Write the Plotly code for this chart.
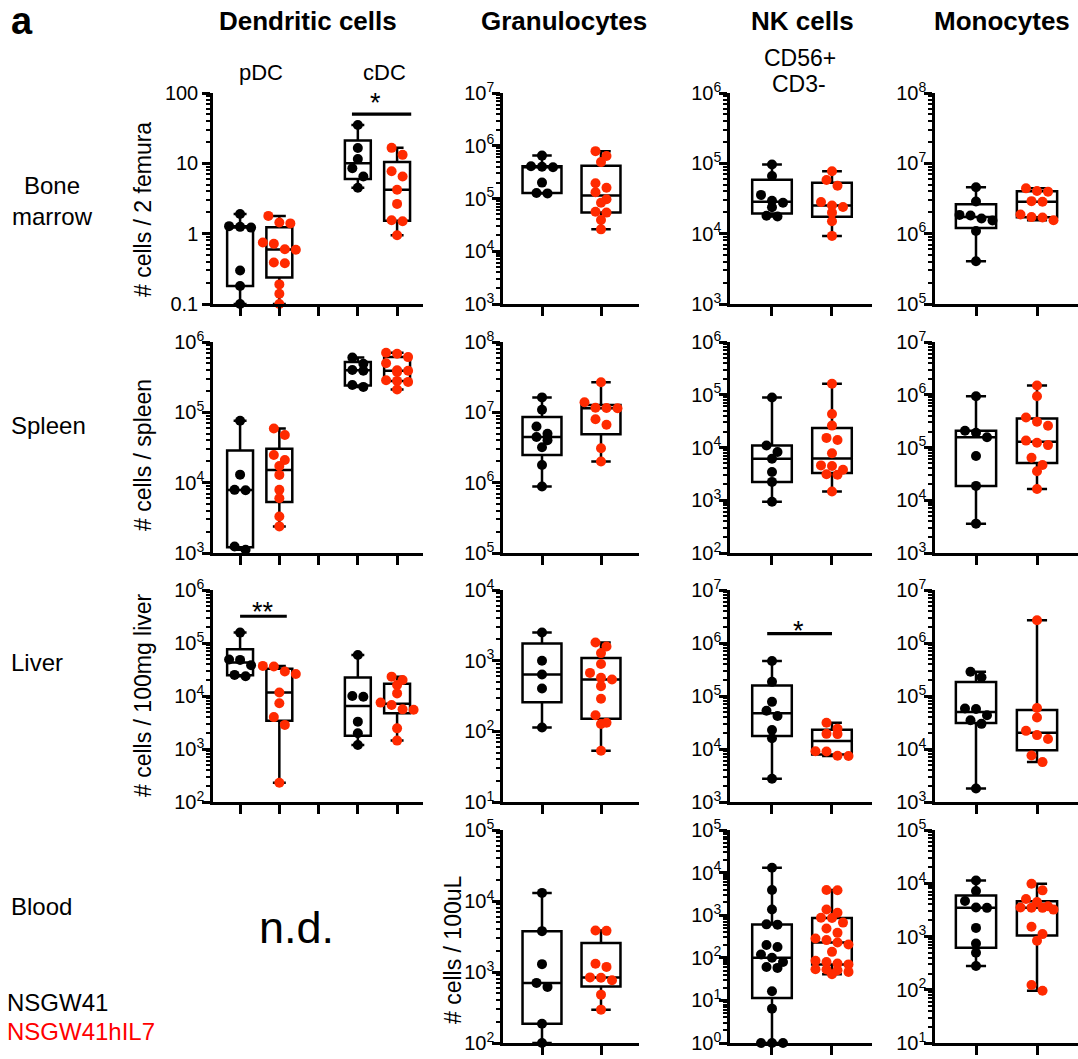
import numpy as np
import plotly.graph_objects as go

W, H = 1078, 1059
FONT = "Liberation Sans, Arial, sans-serif"
BLACK = "#000000"
RED = "#ff2a00"
LEGEND_RED = "#ff0000"

# ---------------- data (NSGW41 = ctrl, NSGW41hIL7 = il7) ----------------
# Bone marrow
bm_pdc_ctrl = [1.9, 1.28, 1.25, 1.22, 0.3, 0.18, 0.1]
bm_pdc_il7 = [1.79, 1.44, 1.40, 0.75, 0.72, 0.60, 0.59, 0.39, 0.38, 0.19, 0.14, 0.1]
bm_cdc_ctrl = [35, 16.5, 11.5, 8.5, 6.5, 4.5]
bm_cdc_il7 = [16.6, 13.2, 7.7, 6.5, 4.2, 2.65, 1.55, 1.5, 0.95]
bm_gran_ctrl = [6.5e5, 4.1e5, 4.0e5, 3.9e5, 2.0e5, 1.27e5, 1.25e5]
bm_gran_il7 = [7.9e5, 6.4e5, 4.9e5, 1.94e5, 1.6e5, 1.31e5, 9.7e4, 8.3e4, 5.6e4, 5.4e4, 3.9e4, 2.6e4]
bm_nk_ctrl = [9.6e4, 6.6e4, 3.56e4, 2.93e4, 2.75e4, 2.37e4, 1.8e4, 1.75e4]
bm_nk_il7 = [7.7e4, 5.8e4, 4.8e4, 2.81e4, 2.52e4, 2.39e4, 1.99e4, 1.5e4, 9.3e3]
bm_mono_ctrl = [4.56e6, 2.87e6, 1.85e6, 1.81e6, 1.64e6, 1.54e6, 1.09e6, 4.05e5]
bm_mono_il7 = [4.41e6, 4.05e6, 3.96e6, 2.9e6, 2.85e6, 1.87e6, 1.72e6, 1.70e6, 1.55e6]
# Spleen
sp_pdc_ctrl = [7.6e4, 1.3e4, 7.9e3, 7.8e3, 1.24e3, 1.11e3]
sp_pdc_il7 = [5.9e4, 4.75e4, 2.47e4, 2.1e4, 1.73e4, 1.29e4, 7.9e3, 6.0e3, 3.3e3, 2.39e3]
sp_cdc_ctrl = [6.0e5, 4.9e5, 4.0e5, 3.9e5, 2.45e5, 2.3e5]
sp_cdc_il7 = [7.05e5, 6.8e5, 6.1e5, 5.0e5, 3.96e5, 3.9e5, 3.76e5, 2.86e5, 2.8e5, 2.71e5, 2.11e5]
sp_gran_ctrl = [1.63e7, 1.09e7, 6.3e6, 4.95e6, 4.46e6, 4.0e6, 3.18e6, 1.78e6, 8.8e5]
sp_gran_il7 = [2.68e7, 1.39e7, 1.16e7, 1.15e7, 1.14e7, 7.96e6, 6.65e6, 3.08e6, 2.0e6]
sp_nk_ctrl = [8.85e4, 1.09e4, 8.2e3, 6.1e3, 3.43e3, 2.23e3, 9.4e2]
sp_nk_il7 = [1.62e5, 4.3e4, 2.6e4, 1.52e4, 1.39e4, 7.8e3, 4.58e3, 4.45e3, 3.8e3, 3.1e3, 3.05e3, 1.47e3]
sp_mono_ctrl = [9.4e5, 2.08e5, 1.9e5, 1.56e5, 6.9e4, 1.87e4, 3.6e3]
sp_mono_il7 = [1.5e6, 9.4e5, 3.7e5, 3.07e5, 2.59e5, 1.35e5, 1.23e5, 1.11e5, 6.4e4, 4.67e4, 3.55e4, 1.64e4]
# Liver
lv_pdc_ctrl = [1.57e5, 4.9e4, 4.8e4, 3.8e4, 2.5e4, 2.35e4]
lv_pdc_il7 = [3.7e4, 3.6e4, 2.9e4, 2.6e4, 1.16e4, 7.3e3, 4.0e3, 2.85e3, 2.3e2]
lv_cdc_ctrl = [5.94e4, 1.0e4, 9.7e3, 3.28e3, 1.98e3, 1.19e3]
lv_cdc_il7 = [2.32e4, 2.0e4, 1.61e4, 1.12e4, 7.5e3, 6.76e3, 5.6e3, 5.5e3, 2.45e3, 1.44e3]
lv_gran_ctrl = [2.5e3, 1.0e3, 6.36e2, 4.04e2, 1.13e2]
lv_gran_il7 = [1.81e3, 1.59e3, 1.28e3, 8.98e2, 6.71e2, 5.71e2, 5.41e2, 4.36e2, 2.89e2, 1.69e2, 1.32e2, 1.27e2, 5.3e1]
lv_nk_ctrl = [4.57e5, 1.85e5, 7.76e4, 5.27e4, 4.18e4, 2.28e4, 1.59e4, 2.74e3]
lv_nk_il7 = [3.13e4, 2.42e4, 1.93e4, 1.91e4, 9.1e3, 9.0e3, 7.45e3, 7.4e3]
lv_mono_ctrl = [2.87e5, 2.25e5, 5.8e4, 5.7e4, 4.32e4, 3.49e4, 2.98e4, 1.8e3]
lv_mono_il7 = [2.68e6, 5.93e4, 3.92e4, 2.2e4, 1.83e4, 1.54e4, 7.54e3, 5.66e3]
# Blood
bl_gran_ctrl = [1.3e4, 3.76e3, 1.29e3, 7.02e2, 6.17e2, 1.87e2, 1.0e2]
bl_gran_il7 = [3.85e3, 3.8e3, 1.31e3, 1.18e3, 8.4e2, 8.3e2, 7.65e2, 4.8e2, 2.95e2]
bl_nk_ctrl = [1.3e4, 3.9e3, 1.36e3, 6.1e2, 6.0e2, 2.0e2, 1.8e2, 1.2e2, 1.0e2, 8.0e1, 6.1e1,
              5.8e1, 1.64e1, 6.4, 1, 1, 1]
bl_nk_il7 = [3.9e3, 3.85e3, 1.36e3, 1.14e3, 8.7e2, 8.6e2, 6.7e2, 4.88e2, 3.85e2, 2.84e2, 2.6e2,
             2.29e2, 2.05e2, 1.38e2, 8.5e1, 8.0e1, 7.3e1, 7.0e1, 5.4e1, 5.3e1, 5.1e1, 4.67e1, 4.1e1]
bl_mono_ctrl = [1.13e4, 7.14e3, 4.65e3, 3.5e3, 3.45e3, 1.45e3, 7.4e2, 4.95e2, 2.79e2]
bl_mono_il7 = [9.8e3, 7.35e3, 5.06e3, 4.45e3, 3.69e3, 3.5e3, 3.48e3, 3.45e3, 3.2e3, 1.52e3,
               1.11e3, 8.3e2, 1.23e2, 9.6e1]

COLUMN_TITLES = ["Dendritic cells", "Granulocytes", "NK cells", "Monocytes"]
Y_TITLES = ["# cells / 2 femura", "# cells / spleen", "# cells / 100mg liver", "# cells / 100uL"]

# ---------------- layout geometry (pixels) ----------------
COL_PX = [(213, 423), (503, 639), (730, 872), (935, 1078)]
ROW_PX = [(93, 304), (342, 553), (590, 802), (830, 1043)]
XRANGE = [[-0.69, 4.66], [-0.661, 1.644], [-0.7, 1.667], [-0.672, 1.672]]

panels = [
    dict(r=0, c=0, yr=(-1, 2), plain=True,
         groups=[(0, bm_pdc_ctrl, BLACK), (1, bm_pdc_il7, RED), (3, bm_cdc_ctrl, BLACK), (4, bm_cdc_il7, RED)]),
    dict(r=0, c=1, yr=(3, 7), groups=[(0, bm_gran_ctrl, BLACK), (1, bm_gran_il7, RED)]),
    dict(r=0, c=2, yr=(3, 6), groups=[(0, bm_nk_ctrl, BLACK), (1, bm_nk_il7, RED)]),
    dict(r=0, c=3, yr=(5, 8), groups=[(0, bm_mono_ctrl, BLACK), (1, bm_mono_il7, RED)]),
    dict(r=1, c=0, yr=(3, 6),
         groups=[(0, sp_pdc_ctrl, BLACK), (1, sp_pdc_il7, RED), (3, sp_cdc_ctrl, BLACK), (4, sp_cdc_il7, RED)]),
    dict(r=1, c=1, yr=(5, 8), groups=[(0, sp_gran_ctrl, BLACK), (1, sp_gran_il7, RED)]),
    dict(r=1, c=2, yr=(2, 6), groups=[(0, sp_nk_ctrl, BLACK), (1, sp_nk_il7, RED)]),
    dict(r=1, c=3, yr=(3, 7), groups=[(0, sp_mono_ctrl, BLACK), (1, sp_mono_il7, RED)]),
    dict(r=2, c=0, yr=(2, 6),
         groups=[(0, lv_pdc_ctrl, BLACK), (1, lv_pdc_il7, RED), (3, lv_cdc_ctrl, BLACK), (4, lv_cdc_il7, RED)]),
    dict(r=2, c=1, yr=(1, 4), groups=[(0, lv_gran_ctrl, BLACK), (1, lv_gran_il7, RED)]),
    dict(r=2, c=2, yr=(3, 7), groups=[(0, lv_nk_ctrl, BLACK), (1, lv_nk_il7, RED)]),
    dict(r=2, c=3, yr=(3, 7), groups=[(0, lv_mono_ctrl, BLACK), (1, lv_mono_il7, RED)]),
    dict(r=3, c=1, yr=(2, 5), groups=[(0, bl_gran_ctrl, BLACK), (1, bl_gran_il7, RED)]),
    dict(r=3, c=2, yr=(0, 5), groups=[(0, bl_nk_ctrl, BLACK), (1, bl_nk_il7, RED)]),
    dict(r=3, c=3, yr=(1, 5), groups=[(0, bl_mono_ctrl, BLACK), (1, bl_mono_il7, RED)]),
]

# significance bars: (panel index, x0, x1, y value, label, star x, yshift)
significance = [
    (0, 2.85, 4.36, 50, "*", 3.45, 11),
    (8, 0.0, 1.19, 3.2e5, "**", 0.58, 4),
    (10, -0.08, 1.0, 1.5e6, "*", 0.44, 3),
]


def swarm(vals, ppu, ppd, d=11.0, max_row=4):
    y = np.log10(np.asarray(vals, float)) * ppd
    order = np.argsort(-y, kind="stable")
    rows, cur = [], [order[0]]
    for i in order[1:]:
        if abs(y[cur[0]] - y[i]) < 0.75 * d and len(cur) < max_row:
            cur.append(i)
        else:
            rows.append(cur)
            cur = [i]
    rows.append(cur)
    off = np.zeros(len(y))
    for row in rows:
        k = len(row)
        for j, i in enumerate(row):
            off[i] = (j - (k - 1) / 2) * d / ppu
    return off


def fmt_plain(v):
    return ("%g" % v)


fig = go.Figure()
layout = dict(
    width=W, height=H, margin=dict(l=0, r=0, t=0, b=0, autoexpand=False),
    paper_bgcolor="white", plot_bgcolor="white", showlegend=False,
    font=dict(family=FONT, color="black"), hovermode=False,
)
annotations = []

for idx, p in enumerate(panels):
    n = idx + 1
    xname = "xaxis" if n == 1 else f"xaxis{n}"
    yname = "yaxis" if n == 1 else f"yaxis{n}"
    xref = "x" if n == 1 else f"x{n}"
    yref = "y" if n == 1 else f"y{n}"
    x0px, x1px = COL_PX[p["c"]]
    y0px, y1px = ROW_PX[p["r"]]
    xr = XRANGE[p["c"]]
    yr = p["yr"]
    ppu = (x1px - x0px) / (xr[1] - xr[0])
    ppd = (y1px - y0px) / (yr[1] - yr[0])

    for pos, vals, color in p["groups"]:
        v = np.asarray(vals, float)
        q1, med, q3 = np.percentile(v, [25, 50, 75], method="weibull")
        fig.add_trace(go.Box(
            x=[pos], q1=[q1], median=[med], q3=[q3],
            lowerfence=[v.min()], upperfence=[v.max()],
            width=0.66, whiskerwidth=0.5, fillcolor="white",
            line=dict(color="black", width=2.5), boxpoints=False,
            xaxis=xref, yaxis=yref,
        ))
    for pos, vals, color in p["groups"]:
        offs = swarm(vals, ppu, ppd)
        fig.add_trace(go.Scatter(
            x=pos + offs, y=vals, mode="markers",
            marker=dict(color=color, size=10, line=dict(width=0)),
            cliponaxis=False, xaxis=xref, yaxis=yref,
        ))

    ntick = 5 if p["c"] == 0 else 2
    layout[xname] = dict(
        domain=[x0px / W, x1px / W], range=xr, anchor=yref,
        tickvals=list(range(ntick)), showticklabels=False,
        ticks="outside", ticklen=9, tickwidth=2.5, tickcolor="black",
        showline=True, linewidth=2.5, linecolor="black",
        showgrid=False, zeroline=False, fixedrange=True,
    )
    majors = [10.0 ** k for k in range(yr[0], yr[1] + 1)]
    if p.get("plain"):
        ttext = [fmt_plain(m) for m in majors]
        standoff = 0
    else:
        ttext = [f"10<sup>{k}</sup>" for k in range(yr[0], yr[1] + 1)]
        standoff = -6
    minors = [m * 10.0 ** k for k in range(yr[0], yr[1]) for m in range(2, 10)]
    layout[yname] = dict(
        domain=[1 - y1px / H, 1 - y0px / H], type="log", range=list(yr), anchor=xref,
        tickvals=majors, ticktext=ttext, tickfont=dict(size=20, color="black"),
        ticklabelstandoff=standoff,
        ticks="outside", ticklen=8, tickwidth=2.5, tickcolor="black",
        minor=dict(tickvals=minors, ticks="outside", ticklen=4, tickwidth=1.5,
                   tickcolor="black", showgrid=False),
        showline=True, linewidth=2.5, linecolor="black",
        showgrid=False, zeroline=False, fixedrange=True,
    )

# significance bars and stars
for pi, xa, xb, yv, lab, sx, ysh in significance:
    n = pi + 1
    xref = "x" if n == 1 else f"x{n}"
    yref = "y" if n == 1 else f"y{n}"
    fig.add_trace(go.Scatter(x=[xa, xb], y=[yv, yv], mode="lines",
                             line=dict(color="black", width=3.2),
                             cliponaxis=False, xaxis=xref, yaxis=yref))
    annotations.append(dict(x=sx, y=np.log10(yv), xref=xref, yref=yref, text=lab,
                            showarrow=False, xanchor="center", yanchor="middle",
                            yshift=ysh, font=dict(size=27, color="black")))


def pa(text, xp, yp, size, xanchor="center", bold=False, color="black", angle=0):
    if bold:
        text = f"<b>{text}</b>"
    annotations.append(dict(text=text, x=xp / W, y=1 - yp / H, xref="paper", yref="paper",
                            showarrow=False, xanchor=xanchor, yanchor="middle",
                            textangle=angle, font=dict(size=size, color=color, family=FONT)))


pa("a", 22, 21, 38, bold=True)
for title, xc in zip(COLUMN_TITLES, [308, 564, 802, 1002]):
    pa(title, xc, 21, 26, bold=True)
pa("pDC", 261, 73, 22)
pa("cDC", 384, 73, 22)
pa("CD56+", 800, 58, 23)
pa("CD3-", 799, 84, 23)

pa("Bone<br>marrow", 53, 201, 24)
pa("Spleen", 9, 425, 24, xanchor="left")
pa("Liver", 9, 662, 24, xanchor="left")
pa("Blood", 9, 906, 24, xanchor="left")

for t, (xc, yc) in zip(Y_TITLES, [(143, 210), (143, 455), (143, 695), (453, 950)]):
    pa(t, xc, yc, 23, angle=-90)

pa("n.d.", 296, 927, 45)
pa("NSGW41", 5, 1002, 24, xanchor="left")
pa("NSGW41hIL7", 5, 1031, 24, xanchor="left", color=LEGEND_RED)

layout["annotations"] = annotations
fig.update_layout(**layout)
fig.write_html(
    "out.html",
    config={"displayModeBar": False},
    post_script="document.body.style.margin='0px';document.body.style.overflow='hidden';",
)
